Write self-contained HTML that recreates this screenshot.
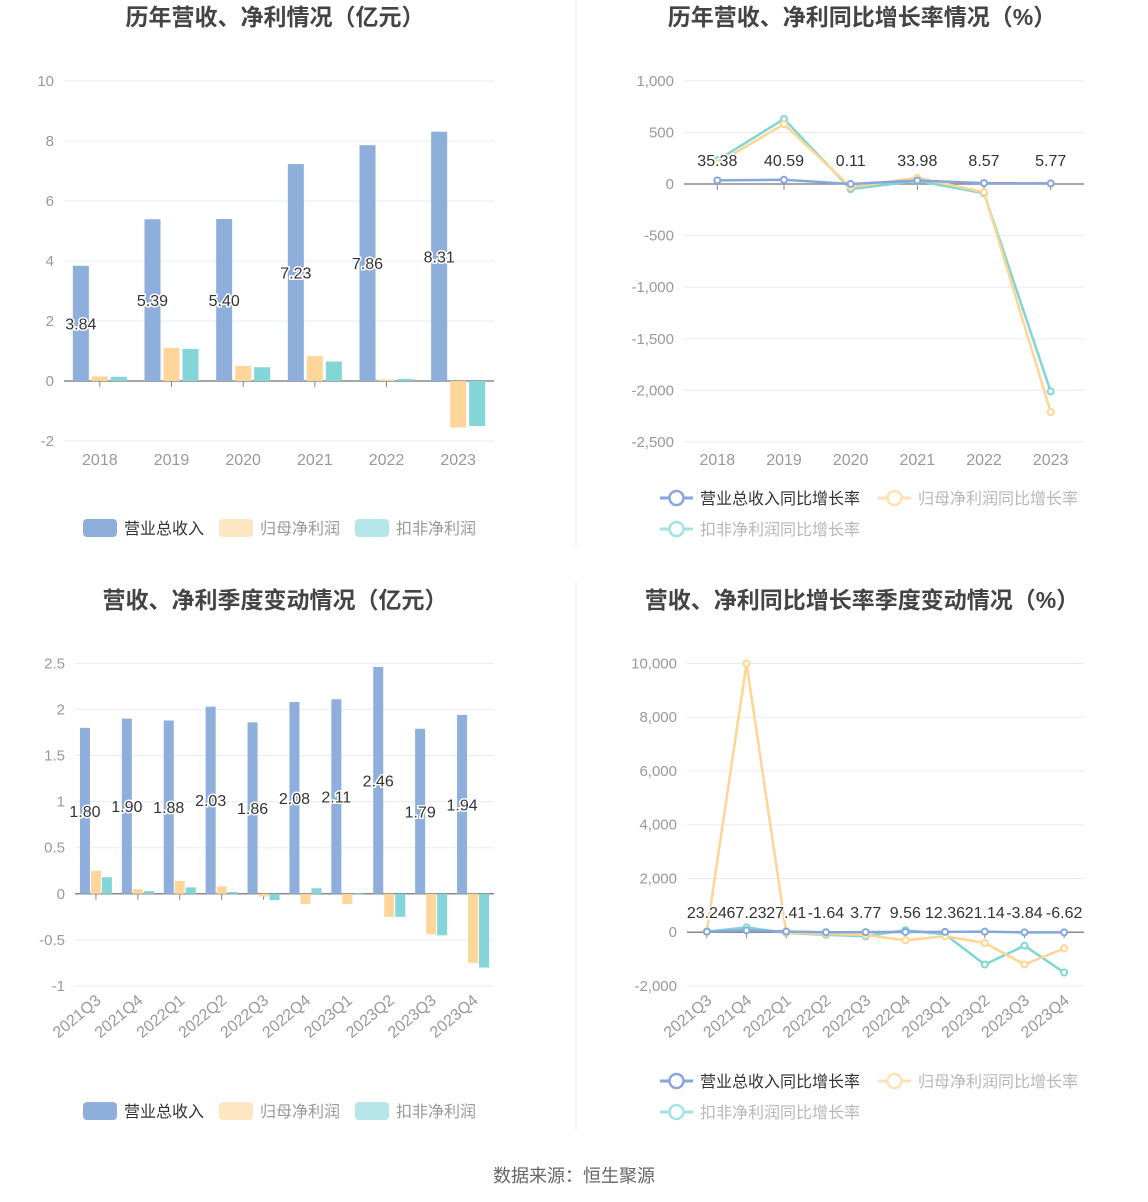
<!DOCTYPE html>
<html><head><meta charset="utf-8">
<style>
body{margin:0;background:#fff;}
svg{display:block;font-family:"Liberation Sans","Noto Sans CJK SC",sans-serif;}
</style></head>
<body>
<svg id="root" width="1148" height="1202" viewBox="0 0 1148 1202">
<line x1="576" y1="0" x2="576" y2="548" stroke="#eee"/>
<line x1="576" y1="582" x2="576" y2="1130" stroke="#eee"/>
<text x="275" y="25" text-anchor="middle" font-size="23" font-weight="bold" fill="#444">历年营收、净利情况（亿元）</text>
<text x="862" y="25" text-anchor="middle" font-size="23" font-weight="bold" fill="#444">历年营收、净利同比增长率情况（%）</text>
<text x="275" y="608" text-anchor="middle" font-size="23" font-weight="bold" fill="#444">营收、净利季度变动情况（亿元）</text>
<text x="862" y="608" text-anchor="middle" font-size="23" font-weight="bold" fill="#444">营收、净利同比增长率季度变动情况（%）</text>
<text x="574" y="1182" text-anchor="middle" font-size="18" fill="#666">数据来源：恒生聚源</text>
<g id="c1"></g>
<g id="c2"></g>
<g id="c3"></g>
<g id="c4"></g>
</svg>
<script>
const years = ["2018","2019","2020","2021","2022","2023"];
const annualRevenue = [3.84,5.39,5.40,7.23,7.86,8.31];
const annualNetProfit = [0.15,1.10,0.50,0.83,0.05,-1.55];
const annualDeductProfit = [0.14,1.07,0.46,0.65,0.07,-1.50];
const annualTicks = [10,8,6,4,2,0,-2];

const annualRevGrowth = [35.38,40.59,0.11,33.98,8.57,5.77];
const annualNetGrowth = [200,580,-30,60,-80,-2210];
const annualDeductGrowth = [230,630,-50,30,-90,-2010];
const annualGrowthTicks = [1000,500,0,-500,-1000,-1500,-2000,-2500];

const quarters = ["2021Q3","2021Q4","2022Q1","2022Q2","2022Q3","2022Q4","2023Q1","2023Q2","2023Q3","2023Q4"];
const qRevenue = [1.80,1.90,1.88,2.03,1.86,2.08,2.11,2.46,1.79,1.94];
const qNetProfit = [0.25,0.05,0.14,0.08,-0.03,-0.11,-0.11,-0.25,-0.44,-0.75];
const qDeductProfit = [0.18,0.03,0.07,0.02,-0.07,0.06,0.01,-0.25,-0.45,-0.80];
const qTicks = [2.5,2,1.5,1,0.5,0,-0.5,-1];
const qTickLabels = ["2.5","2","1.5","1","0.5","0","-0.5","-1"];

const qRevGrowth = [23.24,67.23,27.41,-1.64,3.77,9.56,12.36,21.14,-3.84,-6.62];
const qNetGrowth = [20,10000,-20,-60,-100,-300,-150,-400,-1200,-600];
const qDeductGrowth = [20,180,-30,-100,-150,80,-80,-1200,-500,-1500];
const qGrowthTicks = [10000,8000,6000,4000,2000,0,-2000];

const NS="http://www.w3.org/2000/svg";
const BLUE="#8eaedb",ORANGE="#ffd699",TEAL="#84d5d8";
const LBLUE="#86a6dc",LORANGE="#ffd591",LTEAL="#7fd6d6";
function mk(p,tag,at,txt){const e=document.createElementNS(NS,tag);for(const k in at)e.setAttribute(k,at[k]);if(txt!==undefined)e.textContent=txt;p.appendChild(e);return e;}
function fmt(v){return Math.abs(v)>=1000?v.toLocaleString('en-US'):String(v);}

function axes(g,o){
  const y=v=>o.y0-(v-o.vmin)*o.k;
  o.ticks.forEach((t,i)=>{
    const gl=mk(g,'line',{x1:o.x0,x2:o.x1,y1:y(t),y2:y(t),stroke:'#e6ebf5'});
    
    
    const tl=mk(g,'text',{x:o.lx,y:y(t)+5,'text-anchor':'end','font-size':15,fill:'#999'},o.tickLabels?o.tickLabels[i]:fmt(t));
    
    
  });
  const ax=mk(g,'line',{x1:o.x0,x2:o.x1,y1:y(0),y2:y(0),stroke:'#888','stroke-width':1.5});
  
  
  const bw=(o.x1-o.x0)/o.cats.length;
  o.cats.forEach((c,i)=>{
    const cx=o.x0+bw*(i+0.5);
    const tk=mk(g,'line',{x1:cx,x2:cx,y1:y(0),y2:y(0)+6,stroke:'#888'});
    
    
    let t;
    if(o.rotate){
      t=mk(g,'text',{x:cx+6,y:o.labelY,'text-anchor':'end','font-size':16,fill:'#999',transform:`rotate(-40 ${cx+6} ${o.labelY})`},c);
    } else {
      t=mk(g,'text',{x:cx,y:o.labelY,'text-anchor':'middle','font-size':16,fill:'#999'},c);
    }
    
    
  });
  return {y,bw};
}

function barChart(g,o,rev,net,ded){
  const {y,bw}=axes(g,o);
  const w=o.barW,gap=o.gap;
  const series=[[rev,BLUE,'bar-revenue'],[net,ORANGE,'bar-net-profit'],[ded,TEAL,'bar-deduct-profit']];
  o.cats.forEach((c,i)=>{
    const cx=o.x0+bw*(i+0.5);
    series.forEach((s,j)=>{
      const v=s[0][i];const x=cx+(j-1)*(w+gap)-w/2;
      const r=mk(g,'rect',{x:x,y:Math.min(y(v),y(0)),width:w,height:Math.abs(y(v)-y(0)),fill:s[1]});
      
      
    });
    const bx=cx-(w+gap);
    const lab=mk(g,'text',{x:bx,y:(y(rev[i])+y(0))/2+6,'text-anchor':'middle','font-size':16,fill:'#333',stroke:'#fff','stroke-width':3,'paint-order':'stroke'},rev[i].toFixed(2));
    
    
  });
}

function lineChart(g,o,rev,net,ded){
  const {y,bw}=axes(g,o);
  const series=[[ded,LTEAL,'line-deduct-growth'],[net,LORANGE,'line-net-growth'],[rev,LBLUE,'line-revenue-growth']];
  series.forEach(s=>{
    const pts=s[0].map((v,i)=>[o.x0+bw*(i+0.5),y(v)]);
    const pl=mk(g,'polyline',{points:pts.map(p=>p.join(',')).join(' '),fill:'none',stroke:s[1],'stroke-width':2.5});
    
    
    pts.forEach(p=>{
      const c=mk(g,'circle',{cx:p[0],cy:p[1],r:3,fill:'#fff',stroke:s[1],'stroke-width':2});
      
      
    });
  });
  rev.forEach((v,i)=>{
    const t=mk(g,'text',{x:o.x0+bw*(i+0.5),y:o.valY,'text-anchor':'middle','font-size':16,fill:'#333',stroke:'#fff','stroke-width':3,'paint-order':'stroke'},v.toFixed(2));
    
    
  });
}

function barLegend(g,ly){
  const items=[[83,BLUE,'营业总收入','#333'],[219,ORANGE,'归母净利润','#999'],[355,TEAL,'扣非净利润','#999']];
  items.forEach(it=>{
    const gg=mk(g,'g',{});
    
    
    mk(gg,'rect',{x:it[0],y:ly-9,width:34,height:18,rx:4,fill:it[1],opacity:it[3]=='#333'?1:0.6});
    mk(gg,'text',{x:it[0]+41,y:ly+6,'font-size':16,fill:it[3]},it[2]);
  });
}
function lineLegend(g,ly){
  const items=[[660,ly,LBLUE,'营业总收入同比增长率','#333'],[878,ly,LORANGE,'归母净利润同比增长率','#999'],[660,ly+31,LTEAL,'扣非净利润同比增长率','#999']];
  items.forEach(it=>{
    const gg=mk(g,'g',{opacity:it[4]=='#333'?1:0.7});
    
    
    mk(gg,'line',{x1:it[0],x2:it[0]+33,y1:it[1],y2:it[1],stroke:it[2],'stroke-width':3});
    mk(gg,'circle',{cx:it[0]+16.5,cy:it[1],r:7,fill:'#fff',stroke:it[2],'stroke-width':2.5});
    mk(gg,'text',{x:it[0]+40,y:it[1]+6,'font-size':16,fill:it[4]},it[3]);
  });
}

const c1=document.getElementById('c1');
barChart(c1,{x0:64,x1:494,y0:441,vmin:-2,k:30,ticks:annualTicks,lx:54,cats:years,labelY:465,barW:16,gap:3},annualRevenue,annualNetProfit,annualDeductProfit);
barLegend(c1,528);

const c2=document.getElementById('c2');
lineChart(c2,{x0:684,x1:1084,y0:442,vmin:-2500,k:0.1032,ticks:annualGrowthTicks,lx:674,cats:years,labelY:465,valY:166},annualRevGrowth,annualNetGrowth,annualDeductGrowth);
lineLegend(c2,498);

const c3=document.getElementById('c3');
barChart(c3,{x0:75,x1:494,y0:986,vmin:-1,k:92.2,ticks:qTicks,tickLabels:qTickLabels,lx:65,cats:quarters,labelY:1002,rotate:true,barW:10,gap:1},qRevenue,qNetProfit,qDeductProfit);
barLegend(c3,1111);

const c4=document.getElementById('c4');
lineChart(c4,{x0:687,x1:1084,y0:986,vmin:-2000,k:0.02688,ticks:qGrowthTicks,lx:677,cats:quarters,labelY:1002,rotate:true,valY:918},qRevGrowth,qNetGrowth,qDeductGrowth);
lineLegend(c4,1081);
</script>
</body></html>
